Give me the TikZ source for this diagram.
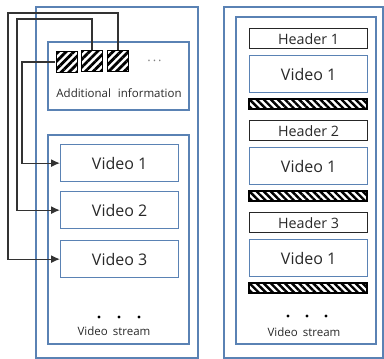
\documentclass[tikz,border=0pt]{standalone}
\usepackage{fontspec}
\setmainfont{Open Sans}
\usetikzlibrary{patterns.meta,arrows.meta}
\definecolor{bframe}{RGB}{90,130,180}
\definecolor{txt}{RGB}{40,40,40}
\tikzset{
  bluebox/.style={draw=bframe,line width=1.3pt},
  vidbox/.style={draw=bframe,line width=1.3pt,minimum width=118pt,minimum height=37pt,inner sep=0pt,anchor=north west,text=txt,font=\fontsize{16}{16}\selectfont},
  hdrbox/.style={draw=black!85,line width=1.3pt,minimum width=118pt,minimum height=20pt,inner sep=0pt,anchor=north west,text=txt,font=\fontsize{14.3}{14.3}\selectfont},
  hbar/.style={draw=black,line width=1.2pt,pattern={Lines[angle=-45,distance=5pt,line width=2.4pt]}},
  sqbox/.style={draw=black,line width=1.2pt,minimum width=21pt,minimum height=21pt,inner sep=0pt,anchor=north west,pattern={Lines[angle=45,distance=5.5pt,line width=2.8pt]}},
  conn/.style={draw=black!80,line width=1.3pt},
  lbl/.style={text=txt,inner sep=0pt,font=\fontsize{11.5}{11.5}\selectfont},
  dotc/.style={fill=black},
}
\begin{document}
\begin{tikzpicture}[x=1pt,y=-1pt]
\useasboundingbox (0,0) rectangle (384,359);
% left panel
\draw[bluebox] (36,7) rectangle (198,358);
\draw[bluebox] (48,42) rectangle (189,110);
\draw[bluebox] (48,135) rectangle (189,344);
\node[sqbox] (sq1) at (55,50) {};
\node[sqbox] (sq2) at (81,50) {};
\node[sqbox] (sq3) at (107,50) {};
\node[text=black!50,inner sep=0pt,font=\fontsize{13}{13}\selectfont] (more) at (154.5,63) {·\hspace{2pt}·\hspace{2pt}·};
\node[lbl] (addinfo) at (119,93) {Additional\hspace{7pt}information};
\node[vidbox] (v1) at (60,144) {Video 1};
\node[vidbox] (v2) at (60,191) {Video 2};
\node[vidbox] (v3) at (60,240) {Video 3};
\fill[dotc] (99,317) circle (1.6pt);
\fill[dotc] (119,317) circle (1.6pt);
\fill[dotc] (139,317) circle (1.6pt);
\node[lbl] (vsl) at (114,331) {Video\hspace{5pt}stream};
% connectors
\coordinate (k1) at (22,0);
\coordinate (k2) at (17,19);
\coordinate (k3) at (8,13);
\draw[conn,-{Latex[length=9pt,width=8pt]}] (sq1.west) -| (k1 |- v1.west) -- (v1.west);
\draw[conn,-{Latex[length=9pt,width=8pt]}] (sq2.north) |- (k2) |- (v2.west);
\draw[conn,-{Latex[length=9pt,width=8pt]}] (sq3.north) |- (k3) |- (v3.west);
% right panel
\draw[bluebox] (224,7) rectangle (383,358);
\draw[bluebox] (236,17) rectangle (376,344);
\node[hdrbox] (h1) at (249,28) {Header 1};
\node[vidbox] (r1) at (249,55) {Video 1};
\draw[hbar] (249,99) rectangle (367,109);
\node[hdrbox] (h2) at (249,120) {Header 2};
\node[vidbox] (r2) at (249,147) {Video 1};
\draw[hbar] (249,191) rectangle (367,201);
\node[hdrbox] (h3) at (249,212) {Header 3};
\node[vidbox] (r3) at (249,239) {Video 1};
\draw[hbar] (249,283) rectangle (367,293);
\fill[dotc] (288,316) circle (1.6pt);
\fill[dotc] (307,316) circle (1.6pt);
\fill[dotc] (326,316) circle (1.6pt);
\node[lbl] (vsr) at (304,332) {Video\hspace{5pt}stream};
\end{tikzpicture}
\end{document}
